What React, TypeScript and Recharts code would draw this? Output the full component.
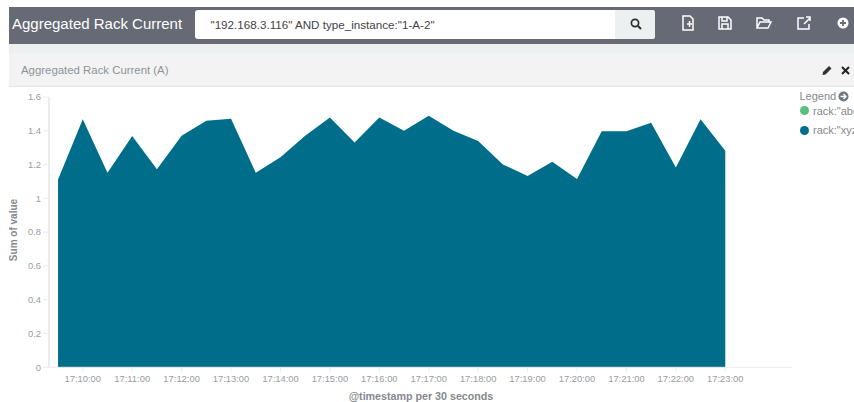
import { AreaChart, Area, XAxis, YAxis } from 'recharts';

const timeLabels = [
    '17:09:30', '17:10:00', '17:10:30', '17:11:00', '17:11:30', '17:12:00', '17:12:30',
    '17:13:00', '17:13:30', '17:14:00', '17:14:30', '17:15:00', '17:15:30', '17:16:00',
    '17:16:30', '17:17:00', '17:17:30', '17:18:00', '17:18:30', '17:19:00', '17:19:30',
    '17:20:00', '17:20:30', '17:21:00', '17:21:30', '17:22:00', '17:22:30', '17:23:00',
];
const xyzValues = [
    1.112, 1.469, 1.151, 1.369, 1.173, 1.37, 1.459,
    1.471, 1.151, 1.243, 1.37, 1.479, 1.331, 1.479,
    1.4, 1.489, 1.4, 1.339, 1.201, 1.132, 1.217,
    1.114, 1.398, 1.398, 1.447, 1.183, 1.469, 1.282,
];
const xTickLabels = [
    '17:10:00', '17:11:00', '17:12:00', '17:13:00', '17:14:00', '17:15:00', '17:16:00',
    '17:17:00', '17:18:00', '17:19:00', '17:20:00', '17:21:00', '17:22:00', '17:23:00',
];
const yTicks = [0, 0.2, 0.4, 0.6, 0.8, 1, 1.2, 1.4, 1.6];
const legendNames = ['rack:"abc"', 'rack:"xyz"'];
const legendColors = ['#57c17b', '#006e8a'];

// seconds since midnight, so the axis is a real time scale
const toSeconds = (label: string) => {
    const [h, m, s] = label.split(':').map(Number);
    return h * 3600 + m * 60 + s;
};
const fromSeconds = (value: number) => xTickLabels.find((l) => toSeconds(l) === value) ?? '';

const chartData = timeLabels.map((label, i) => ({ time: toSeconds(label), xyz: xyzValues[i] }));

const font = '"Liberation Sans", Arial, sans-serif';
const tickGrey = '#999c9f';
const titleGrey = '#85898d';
const lineGrey = '#ececee';

const iconXs = [688, 725, 764, 804, 843];

function HeaderIcon({ index }: { index: number }) {
    const paths = [
        'M-5 -7H2L5 -4V7H-5Z M-1 1H4M1.5 -2V4',
        'M-6 -6H3L6 -3V6H-6Z M-3 -6V-2H2V-6M-3 6V1H3V6',
        'M-7 5V-5H-2L0 -3H5V-1M-7 5L-4 -1H7L4 5Z',
        'M5 1V6H-6V-5H0M0 1L6 -5M2 -6H6V-2',
    ];
    if (index === 4) {
        return (
            <g transform={`translate(${iconXs[index]},23)`}>
                <circle r={5.5} fill="#fff" />
                <path d="M-3 0H3M0 -3V3" stroke="#666a75" strokeWidth={1.8} />
            </g>
        );
    }
    return (
        <g transform={`translate(${iconXs[index]},23)`}>
            <path d={paths[index]} fill="none" stroke="#fff" strokeWidth={1.5} />
        </g>
    );
}

export default function App() {
    return (
        <div style={{ position: 'absolute', left: 0, top: 0, width: 854, height: 402, overflow: 'hidden', background: '#fff', fontFamily: font }}>
            {/* kibana top bar */}
            <div style={{ position: 'absolute', left: 9, top: 7, width: 845, height: 37, background: '#666a75' }} />
            <div style={{ position: 'absolute', left: 12, top: 14, color: '#fff', fontSize: 15, lineHeight: '20px', whiteSpace: 'nowrap' }}>
                Aggregated Rack Current
            </div>
            <div style={{ position: 'absolute', left: 195, top: 10, width: 460, height: 28.5, background: '#fff', borderRadius: 3 }} />
            <div style={{ position: 'absolute', left: 615, top: 10, width: 40, height: 28.5, background: '#ecf0f1', borderRadius: '0 3px 3px 0' }} />
            <div style={{ position: 'absolute', left: 210.5, top: 15.5, color: '#444', fontSize: 11.65, lineHeight: '17px', whiteSpace: 'nowrap' }}>
                "192.168.3.116" AND type_instance:"1-A-2"
            </div>
            <div style={{ position: 'absolute', left: 9, top: 44, width: 845, height: 9, background: '#ecf0f1' }} />
            <div style={{ position: 'absolute', left: 9, top: 53, width: 845, height: 34, background: '#f3f3f3', borderBottom: '1px solid #e4e6e8', boxSizing: 'border-box' }} />
            <div style={{ position: 'absolute', left: 21, top: 62, color: '#8d949b', fontSize: 11.4, lineHeight: '16px', whiteSpace: 'nowrap' }}>
                Aggregated Rack Current (A)
            </div>
            <svg width={854} height={90} style={{ position: 'absolute', left: 0, top: 0 }}>
                {iconXs.map((_, i) => <HeaderIcon key={i} index={i} />)}
                <circle cx={635} cy={23} r={3.6} fill="none" stroke="#2d2d2d" strokeWidth={1.7} />
                <path d="M638 26L641 29" stroke="#2d2d2d" strokeWidth={2} />
                <path d="M823 72L829 66L831.5 68.5L825.5 74.5L822.5 75Z" fill="#333" />
                <path d="M842 67L849 74M849 67L842 74" stroke="#222" strokeWidth={2} />
            </svg>

            <div style={{ position: 'absolute', left: 0, top: 0 }}>
                <AreaChart
                    width={854}
                    height={402}
                    data={chartData}
                    margin={{ top: 97, right: 62, left: 0, bottom: 0 }}
                >
                    <XAxis
                        dataKey="time"
                        type="number"
                        scale="linear"
                        domain={[toSeconds('17:09:19'), toSeconds('17:24:21')]}
                        ticks={xTickLabels.map(toSeconds)}
                        tickFormatter={fromSeconds}
                        interval={0}
                        height={34.7}
                        axisLine={{ stroke: lineGrey }}
                        tickLine={{ stroke: lineGrey }}
                        tickSize={5}
                        tickMargin={3}
                        tick={{ fill: tickGrey, fontSize: 9.4, fontFamily: font }}
                    />
                    <YAxis
                        width={49}
                        domain={[0, 1.6]}
                        ticks={yTicks}
                        tickFormatter={(v: number) => String(v)}
                        axisLine={{ stroke: lineGrey, strokeWidth: 2 }}
                        tickLine={{ stroke: lineGrey }}
                        tickSize={6}
                        tickMargin={2}
                        tick={{ fill: tickGrey, fontSize: 9.4, fontFamily: font }}
                    />
                    <Area
                        type="linear"
                        dataKey="xyz"
                        name={legendNames[1]}
                        fill={legendColors[1]}
                        fillOpacity={1}
                        stroke="none"
                        isAnimationActive={false}
                        dot={false}
                    />
                </AreaChart>
            </div>

            {/* axis titles */}
            <div style={{ position: 'absolute', left: 321, top: 389, width: 200, textAlign: 'center', color: titleGrey, fontSize: 10.7, lineHeight: '14px', fontWeight: 700, whiteSpace: 'nowrap' }}>
                @timestamp per 30 seconds
            </div>
            <div style={{ position: 'absolute', left: 14, top: 230, color: titleGrey, fontSize: 10, lineHeight: '12px', fontWeight: 700, whiteSpace: 'nowrap', transform: 'translate(-50%,-50%) rotate(-90deg)' }}>
                Sum of value
            </div>

            {/* legend */}
            <div style={{ position: 'absolute', left: 799.5, top: 89, color: '#85898d', fontSize: 11, lineHeight: '14px', whiteSpace: 'nowrap' }}>
                Legend
            </div>
            <svg width={11} height={11} style={{ position: 'absolute', left: 838, top: 91 }}>
                <circle cx={5.5} cy={5.5} r={5} fill="#6f767d" />
                <path d="M2.5 5.5H8M5.5 3L8 5.5L5.5 8" fill="none" stroke="#fff" strokeWidth={1.3} />
            </svg>
            {legendNames.map((name, i) => (
                <div key={name}>
                    <div style={{ position: 'absolute', left: 799.5, top: (i === 0 ? 110.7 : 130.3) - 4.5, width: 9, height: 9, borderRadius: '50%', background: legendColors[i] }} />
                    <div style={{ position: 'absolute', left: 813, top: (i === 0 ? 110.7 : 130.3) - 7, height: 14, whiteSpace: 'nowrap', color: '#85898d', fontSize: 11, lineHeight: '14px' }}>
                        {name}
                    </div>
                </div>
            ))}
        </div>
    );
}
